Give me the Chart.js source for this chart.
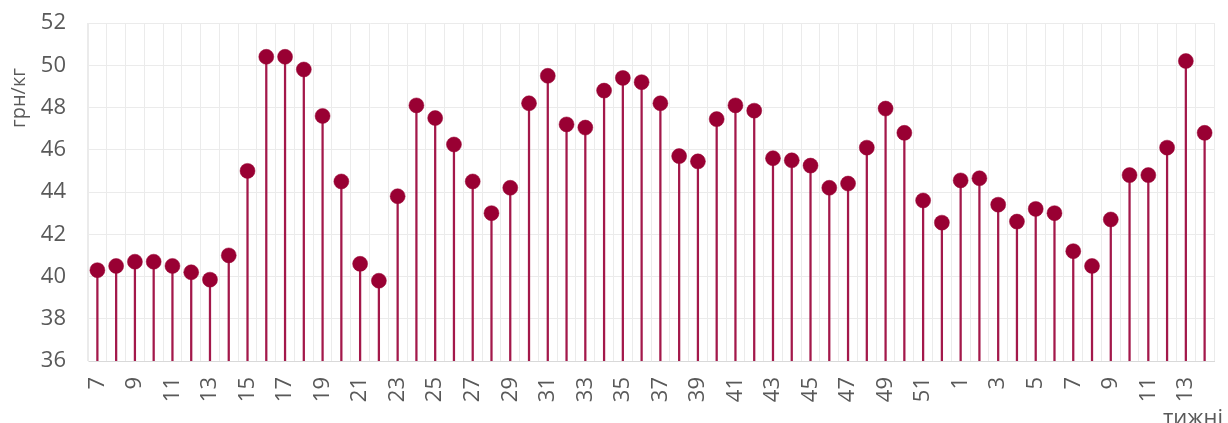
<!DOCTYPE html>
<html>
<head>
<meta charset="utf-8">
<script src="https://cdn.jsdelivr.net/npm/chart.js@4.4.1/dist/chart.umd.min.js"></script>
<style>
html,body{margin:0;padding:0;background:#fff;}
#c{display:block;}
</style>
</head>
<body>
<canvas id="c" width="1228" height="423"></canvas>
<script>
const weeks = ['7','8','9','10','11','12','13','14','15','16','17','18','19','20','21','22','23','24','25','26','27','28','29','30','31','32','33','34','35','36','37','38','39','40','41','42','43','44','45','46','47','48','49','50','51','52','1','2','3','4','5','6','7','8','9','10','11','12','13','14'];
const prices = [40.3,40.5,40.7,40.7,40.5,40.2,39.85,41.0,45.0,50.4,50.4,49.8,47.6,44.5,40.6,39.8,43.8,48.1,47.5,46.25,44.5,43.0,44.2,48.2,49.5,47.2,47.05,48.8,49.4,49.2,48.2,45.7,45.45,47.45,48.1,47.85,45.6,45.5,45.25,44.2,44.4,46.1,47.95,46.8,43.6,42.55,44.55,44.65,43.4,42.6,43.2,43.0,41.2,40.5,42.7,44.8,44.8,46.1,50.2,46.8];
const yTicks = [36,38,40,42,44,46,48,50,52];
const yTitle = 'грн/кг';
const xTitle = 'тижні';

const FONT = '"Open Sans", sans-serif';
const TXT = '#595959';
const MARK = '#990033';

const titles = {
  id: 'titles',
  afterDraw(chart) {
    const ctx = chart.ctx;
    ctx.save();
    ctx.fillStyle = TXT;
    ctx.font = '20px ' + FONT;
    ctx.textBaseline = 'middle';
    ctx.textAlign = 'center';
    ctx.save();
    ctx.translate(19, 98);
    ctx.rotate(-Math.PI / 2);
    ctx.fillText(yTitle, 0, 0);
    ctx.restore();
    ctx.font = '22px ' + FONT;
    ctx.textAlign = 'left';
    ctx.textBaseline = 'alphabetic';
    ctx.fillText(xTitle, 1163, 425);
    ctx.restore();
  }
};

new Chart(document.getElementById('c'), {
  type: 'bar',
  data: {
    labels: weeks,
    datasets: [
      {
        type: 'line',
        data: prices,
        showLine: false,
        pointRadius: 7.5,
        pointHoverRadius: 7.5,
        pointBackgroundColor: MARK,
        pointBorderColor: MARK,
        pointBorderWidth: 0.5,
        order: 0
      },
      {
        type: 'bar',
        data: prices,
        backgroundColor: '#a3184a',
        barThickness: 1.6,
        order: 1
      }
    ]
  },
  options: {
    responsive: false,
    devicePixelRatio: 1,
    animation: false,
    layout: { padding: { left: 0, right: 14, top: 23, bottom: 0 } },
    plugins: { legend: { display: false }, tooltip: { enabled: false } },
    scales: {
      x: {
        offset: true,
        afterFit: (s) => { s.height = 62; s.paddingLeft = 0; s.paddingRight = 0; },
        grid: { offset: true, color: '#ebebeb', lineWidth: 1, drawTicks: false },
        border: { color: '#d9d9d9', width: 1 },
        ticks: {
          autoSkip: false,
          maxRotation: 90,
          minRotation: 90,
          padding: 16,
          color: TXT,
          font: { family: FONT, size: 22 },
          callback: (v, i) => (i % 2 === 0 ? weeks[i] : '')
        }
      },
      y: {
        min: yTicks[0],
        max: yTicks[yTicks.length - 1],
        afterFit: (s) => { s.width = 88; s.paddingTop = 0; s.paddingBottom = 0; },
        afterBuildTicks: (s) => { s.ticks = yTicks.map(v => ({ value: v })); },
        grid: { color: '#ebebeb', lineWidth: 1, drawTicks: false },
        border: { color: '#ebebeb', width: 1 },
        ticks: {
          padding: 22,
          color: TXT,
          font: { family: FONT, size: 22 }
        }
      }
    }
  },
  plugins: [titles]
});
</script>
</body>
</html>
